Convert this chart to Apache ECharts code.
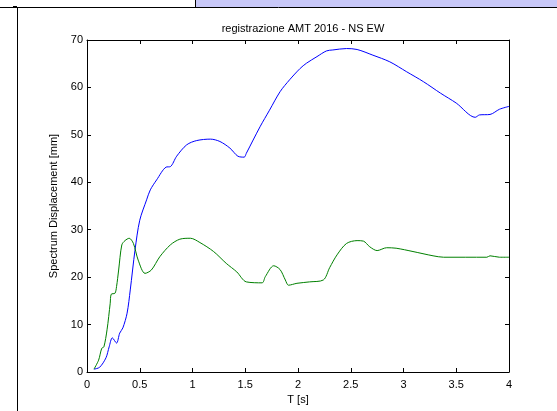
<!DOCTYPE html>
<html>
<head>
<meta charset="utf-8">
<script src="https://cdn.jsdelivr.net/npm/echarts@6/dist/echarts.min.js"></script>
<style>
  html, body { margin: 0; padding: 0; background: #fff; }
  #chart { width: 557px; height: 411px; }
</style>
</head>
<body>
<div id="chart"></div>
<script>
// periodo T [s] e spostamento spettrale [mm]
let blueT = [0.066, 0.12, 0.18, 0.21, 0.24, 0.28, 0.31, 0.34, 0.38, 0.41, 0.455, 0.50, 0.565, 0.60, 0.66, 0.75, 0.79, 0.85, 0.945, 1.04, 1.17, 1.26, 1.355, 1.43, 1.49, 1.51, 1.64, 1.73, 1.83, 1.92, 2.02, 2.08, 2.18, 2.27, 2.33, 2.46, 2.56, 2.71, 2.87, 3.03, 3.19, 3.35, 3.50, 3.68, 3.72, 3.82, 3.91, 4.0]
let blueV = [0.6, 1.0, 3.0, 5.3, 7.2, 6.1, 8.2, 9.3, 12.4, 17.3, 25.7, 32.0, 36.3, 38.4, 40.5, 43.2, 43.3, 45.5, 47.9, 48.8, 49.1, 48.6, 47.2, 45.5, 45.3, 46.1, 51.7, 55.2, 59.1, 61.6, 64.0, 65.1, 66.5, 67.7, 67.9, 68.2, 68.0, 66.8, 65.4, 63.3, 61.2, 58.8, 56.7, 53.7, 54.2, 54.3, 55.4, 56.0]
let greenT = [0.066, 0.11, 0.14, 0.16, 0.19, 0.22, 0.23, 0.265, 0.28, 0.30, 0.33, 0.36, 0.40, 0.44, 0.485, 0.55, 0.61, 0.69, 0.79, 0.88, 0.98, 1.07, 1.20, 1.32, 1.42, 1.51, 1.66, 1.69, 1.77, 1.83, 1.88, 1.91, 1.99, 2.11, 2.24, 2.30, 2.37, 2.46, 2.56, 2.62, 2.68, 2.75, 2.84, 2.93, 3.09, 3.28, 3.38, 3.79, 3.82, 3.91, 4.0]
let greenV = [0.6, 2.5, 5.0, 5.3, 8.9, 14.5, 16.4, 16.6, 18.0, 21.5, 26.8, 27.7, 28.2, 27.1, 23.6, 20.8, 21.5, 24.3, 26.8, 28.0, 28.2, 27.3, 25.4, 22.9, 21.1, 19.0, 18.8, 20.1, 22.4, 21.6, 19.4, 18.3, 18.7, 19.0, 19.4, 22.0, 24.7, 27.1, 27.7, 27.6, 26.4, 25.6, 26.2, 26.1, 25.4, 24.5, 24.2, 24.2, 24.5, 24.2, 24.2]

function pairs(t, v) {
  let out = []
  for (let i = 0; i < t.length; i++) out.push([t[i], v[i]])
  return out
}

let chart = echarts.init(document.getElementById('chart'), null, { renderer: 'canvas' })
let font = 'Liberation Sans, Arial, sans-serif'
let hiddenAxis = {
  min: 0, show: true,
  axisLine: { show: true, onZero: false, lineStyle: { color: '#000', width: 1 } },
  axisTick: { show: true, inside: true, length: 4, lineStyle: { color: '#000' } },
  axisLabel: { show: false },
  splitLine: { show: false }
}

let option = {
  backgroundColor: '#fff',
  animation: false,
  title: {
    text: 'registrazione AMT 2016 - NS EW',
    left: 298, top: 18, textAlign: 'center',
    textStyle: { fontFamily: font, fontSize: 11, fontWeight: 'normal', color: '#000' }
  },
  grid: { left: 87, right: 48, top: 40, bottom: 39 },
  xAxis: [
    {
      type: 'value', min: 0, max: 4, interval: 0.5,
      name: 'T [s]', nameLocation: 'middle', nameGap: 16,
      nameTextStyle: { fontFamily: font, fontSize: 11, color: '#000' },
      axisLine: { onZero: false, lineStyle: { color: '#000', width: 1 } },
      axisTick: { inside: true, length: 4, lineStyle: { color: '#000' } },
      axisLabel: { fontFamily: font, fontSize: 11, color: '#000', margin: 7 },
      splitLine: { show: false }
    },
    Object.assign({ type: 'value', position: 'top', max: 4, interval: 0.5 }, hiddenAxis)
  ],
  yAxis: [
    {
      type: 'value', min: 0, max: 70, interval: 10,
      name: 'Spectrum Displacement [mm]', nameLocation: 'middle', nameGap: 21,
      nameTextStyle: { fontFamily: font, fontSize: 11, color: '#000' },
      axisLine: { onZero: false, lineStyle: { color: '#000', width: 1 } },
      axisTick: { inside: true, length: 4, lineStyle: { color: '#000' } },
      axisLabel: { fontFamily: font, fontSize: 11, color: '#000', margin: 4 },
      splitLine: { show: false }
    },
    Object.assign({ type: 'value', position: 'right', max: 70, interval: 10 }, hiddenAxis)
  ],
  graphic: [
    // cornice della figura
    { type: 'rect', shape: { x: 195, y: 0, width: 362, height: 7 }, style: { fill: '#c8c8f8' }, silent: true },
    { type: 'line', shape: { x1: 0, y1: 7.5, x2: 557, y2: 7.5 }, style: { stroke: '#000', lineWidth: 1 }, silent: true },
    { type: 'line', shape: { x1: 195.5, y1: 0, x2: 195.5, y2: 7 }, style: { stroke: '#000', lineWidth: 1 }, silent: true },
    { type: 'line', shape: { x1: 17.5, y1: 7, x2: 17.5, y2: 411 }, style: { stroke: '#000', lineWidth: 1 }, silent: true },
    { type: 'line', shape: { x1: 13, y1: 6.5, x2: 17, y2: 6.5 }, style: { stroke: '#000', lineWidth: 1 }, silent: true }
  ],
  series: [
    {
      type: 'line', data: pairs(blueT, blueV), showSymbol: false, smooth: 0.3,
      lineStyle: { color: '#0000ff', width: 1 }, itemStyle: { color: '#0000ff' }
    },
    {
      type: 'line', data: pairs(greenT, greenV), showSymbol: false, smooth: 0.3,
      lineStyle: { color: '#008000', width: 1 }, itemStyle: { color: '#008000' }
    }
  ]
}
chart.setOption(option)
</script>
</body>
</html>
